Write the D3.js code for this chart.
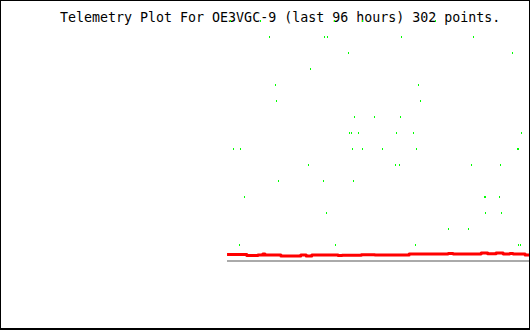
<!DOCTYPE html>
<html>
<head>
<meta charset="utf-8">
<script src="https://cdn.jsdelivr.net/npm/d3@7"></script>
<style>
  body { margin: 0; background: #fff; }
  svg { display: block; }
</style>
</head>
<body>
<script>
let title = "Telemetry Plot For OE3VGC-9 (last 96 hours) 302 points.";

// green channel: hours into the 96h window and discrete level
let greenTimes = [
  41.64, 47.09, 60.55, 65.64, 78.91,
  48.73, 58.73, 59.27, 72.73, 85.82,
  63.09, 92.91,
  56.18,
  49.82, 75.82,
  50.0, 76.18,
  64.18, 67.82, 72.55,
  63.27, 63.64, 64.91, 71.82, 74.91, 94.55,
  42.18, 43.45, 63.82, 65.64, 69.27, 75.45, 93.82, 94.0,
  55.82, 71.64, 72.36, 85.45, 90.73,
  50.36, 58.55, 64.0,
  44.18, 87.82, 88.0, 90.55,
  59.09, 88.0, 90.91,
  81.27, 84.91,
  43.27, 60.73, 75.27, 94.0, 94.36
];
let greenLevels = [
  15, 15, 15, 15, 15,
  14, 14, 14, 14, 14,
  13, 13,
  12,
  11, 11,
  10, 10,
  9, 9, 9,
  8, 8, 8, 8, 8, 8,
  7, 7, 7, 7, 7, 7, 7, 7,
  6, 6, 6, 6, 6,
  5, 5, 5,
  4, 4, 4, 4,
  3, 3, 3,
  2, 2,
  1, 1, 1, 1, 1
];

// red channel (step values)
let redTimes = [41.1, 44.7, 46.7, 47.6, 48.0, 50.9, 54.5, 55.5, 56.5, 61.3, 62.0, 65.5, 68.0,
  74.2, 81.3, 82.2, 87.3, 88.5, 90.0, 91.3, 92.5, 93.1, 95.3, 96.0];
let redValues = [0.41, 0.34, 0.375, 0.44, 0.375, 0.31, 0.375, 0.31, 0.375, 0.34, 0.36, 0.39, 0.375,
  0.44, 0.47, 0.44, 0.5, 0.45, 0.5, 0.44, 0.47, 0.44, 0.375, 0.375];

// gray channel
let grayTimes = [41.1, 96.0];
let grayValues = [0, 0];

let width = 530;
let height = 330;

let x = d3.scaleLinear().domain([0, 96]).range([1, 529]);
let y = d3.scaleLinear().domain([0, 15]).range([261, 21]);

let svg = d3.select("body").append("svg")
    .attr("width", width)
    .attr("height", height);

svg.append("rect")
    .attr("x", 0).attr("y", 0)
    .attr("width", width).attr("height", height)
    .attr("fill", "#fff");

svg.append("text")
    .attr("x", 60)
    .attr("y", 22)
    .attr("font-family", "DejaVu Sans Mono, monospace")
    .attr("font-size", "13.3px")
    .attr("fill", "#000")
    .text(title);

let line = d3.line()
    .x((d) => x(d.t))
    .y((d) => y(d.v))
    .curve(d3.curveStepAfter);

let gray = grayTimes.map((t, i) => ({t: t, v: grayValues[i]}));
svg.append("path")
    .attr("d", line(gray))
    .attr("fill", "none")
    .attr("stroke", "#aaaaaa")
    .attr("stroke-width", 2)
    .attr("shape-rendering", "crispEdges");

let red = redTimes.map((t, i) => ({t: t, v: redValues[i]}));
svg.append("path")
    .attr("d", line(red))
    .attr("fill", "none")
    .attr("stroke", "#ff0000")
    .attr("stroke-width", 3)
    .attr("stroke-linejoin", "round");

let green = greenTimes.map((t, i) => ({t: t, v: greenLevels[i]}));
svg.append("g").selectAll("rect")
    .data(green)
    .enter().append("rect")
    .attr("x", (d) => Math.round(x(d.t)))
    .attr("y", (d) => Math.round(y(d.v)) - 1)
    .attr("width", 1)
    .attr("height", 2)
    .attr("fill", "#00ff00")
    .attr("shape-rendering", "crispEdges");

// frame
svg.append("rect")
    .attr("x", 0.5).attr("y", 0.5)
    .attr("width", 529).attr("height", 328)
    .attr("fill", "none")
    .attr("stroke", "#000")
    .attr("shape-rendering", "crispEdges");
svg.append("line")
    .attr("x1", 0).attr("x2", 530)
    .attr("y1", 329.5).attr("y2", 329.5)
    .attr("stroke", "#000");
</script>
</body>
</html>
